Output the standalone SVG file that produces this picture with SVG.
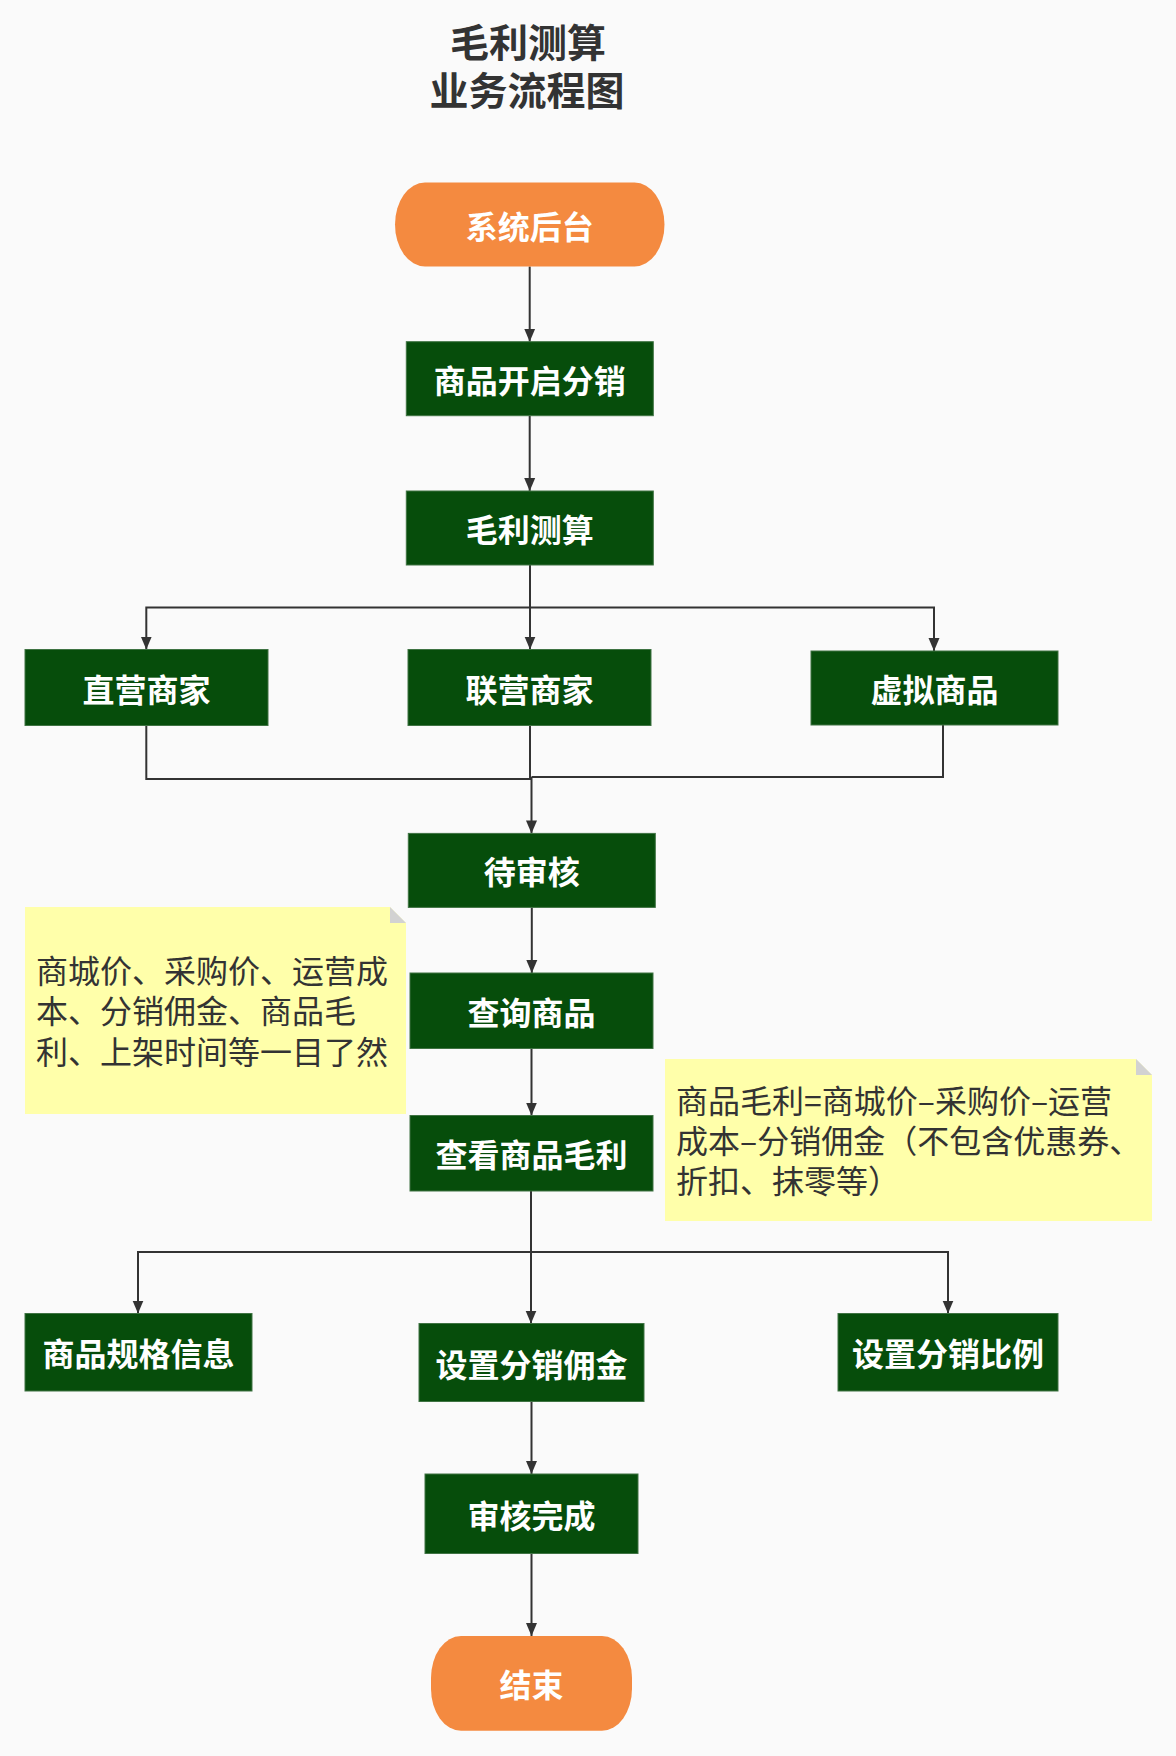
<svg xmlns="http://www.w3.org/2000/svg" width="1176" height="1756" viewBox="0 0 1176 1756">
<style>
  .bg{fill:#fafafa}
  .title{font-family:"Noto Sans CJK SC","Noto Sans",sans-serif;font-weight:bold;font-size:39px;fill:#333333;text-anchor:middle}
  .proc{fill:#064d0b;stroke:#3f7343;stroke-width:1}
  .term{fill:#f48a40}
  .lbl{font-family:"Noto Sans CJK SC","Noto Sans",sans-serif;font-weight:bold;font-size:32px;fill:#ffffff;text-anchor:middle;dominant-baseline:central}
  .note{fill:#ffffaa}
  .fold{fill:#d2d2d2}
  .ntxt{font-family:"Noto Sans CJK SC","Noto Sans",sans-serif;font-size:32px;fill:#333333}
  .edge{fill:none;stroke:#333333;stroke-width:2}
</style>
<defs>
  <marker id="arr" markerUnits="userSpaceOnUse" markerWidth="14" markerHeight="12" refX="13" refY="6" orient="auto">
    <path d="M0,0.5 L13,6 L0,11.5 z" fill="#333333"/>
  </marker>
</defs>
<rect class="bg" x="0" y="0" width="1176" height="1756"/>

<g id="title">
  <text class="title"><tspan x="528" y="57">毛利测算</tspan><tspan x="527" y="105">业务流程图</tspan></text>
</g>

<g id="connectors">
  <path class="edge" d="M529.7 266.5 V341.7" marker-end="url(#arr)"/>
  <path class="edge" d="M529.7 415.7 V491" marker-end="url(#arr)"/>
  <path class="edge" d="M530 565 V607.5"/>
  <path class="edge" d="M530 607.5 H146.3 V649.5" marker-end="url(#arr)"/>
  <path class="edge" d="M530 607.5 V649.5" marker-end="url(#arr)"/>
  <path class="edge" d="M530 607.5 H934 V651" marker-end="url(#arr)"/>
  <path class="edge" d="M146.3 725.5 V779 H531.5"/>
  <path class="edge" d="M943 725 V777 H531.5"/>
  <path class="edge" d="M530 725.5 V779"/>
  <path class="edge" d="M531.5 777 V833.4" marker-end="url(#arr)"/>
  <path class="edge" d="M531.8 907.4 V973" marker-end="url(#arr)"/>
  <path class="edge" d="M531.5 1048.5 V1115.5" marker-end="url(#arr)"/>
  <path class="edge" d="M531 1191 V1252"/>
  <path class="edge" d="M531 1252 H138 V1313.5" marker-end="url(#arr)"/>
  <path class="edge" d="M531 1252 V1323.5" marker-end="url(#arr)"/>
  <path class="edge" d="M531 1252 H948 V1313.5" marker-end="url(#arr)"/>
  <path class="edge" d="M531.5 1401.5 V1474" marker-end="url(#arr)"/>
  <path class="edge" d="M531.5 1553.5 V1636" marker-end="url(#arr)"/>
</g>

<g id="n-start">
  <rect class="term" x="395" y="182.5" width="269.5" height="84" rx="30" ry="42"/>
  <text class="lbl" x="529.7" y="224.5">系统后台</text>
</g>
<g id="n-open">
  <rect class="proc" x="406.3" y="341.7" width="247" height="74"/>
  <text class="lbl" x="529.8" y="378.7">商品开启分销</text>
</g>
<g id="n-calc">
  <rect class="proc" x="406.3" y="491" width="247" height="74"/>
  <text class="lbl" x="529.8" y="528">毛利测算</text>
</g>
<g id="n-direct">
  <rect class="proc" x="25" y="649.5" width="243" height="76"/>
  <text class="lbl" x="146.5" y="687.5">直营商家</text>
</g>
<g id="n-joint">
  <rect class="proc" x="408" y="649.5" width="243" height="76"/>
  <text class="lbl" x="529.5" y="687.5">联营商家</text>
</g>
<g id="n-virtual">
  <rect class="proc" x="811" y="651" width="247" height="74"/>
  <text class="lbl" x="934.5" y="688">虚拟商品</text>
</g>
<g id="n-pending">
  <rect class="proc" x="408.3" y="833.4" width="247" height="74"/>
  <text class="lbl" x="531.8" y="870.4">待审核</text>
</g>
<g id="n-query">
  <rect class="proc" x="410" y="973" width="243" height="75.5"/>
  <text class="lbl" x="531.5" y="1010.7">查询商品</text>
</g>
<g id="n-view">
  <rect class="proc" x="410" y="1115.5" width="243" height="75.5"/>
  <text class="lbl" x="531.5" y="1153.2">查看商品毛利</text>
</g>
<g id="n-spec">
  <rect class="proc" x="25" y="1313.5" width="227" height="77.5"/>
  <text class="lbl" x="138.5" y="1352">商品规格信息</text>
</g>
<g id="n-commission">
  <rect class="proc" x="419" y="1323.5" width="225" height="78"/>
  <text class="lbl" x="531.5" y="1362.5">设置分销佣金</text>
</g>
<g id="n-ratio">
  <rect class="proc" x="838" y="1313.5" width="220" height="77.5"/>
  <text class="lbl" x="948" y="1352">设置分销比例</text>
</g>
<g id="n-done">
  <rect class="proc" x="425" y="1474" width="213" height="79.5"/>
  <text class="lbl" x="531.5" y="1513.7">审核完成</text>
</g>
<g id="n-end">
  <rect class="term" x="431" y="1636" width="201" height="94.7" rx="30" ry="42"/>
  <text class="lbl" x="531.5" y="1683.3">结束</text>
</g>

<g id="note1">
  <polygon class="note" points="25,907 390,907 406,923 406,1114 25,1114"/>
  <polygon class="fold" points="390,907 406,923 390,923"/>
  <text class="ntxt"><tspan x="36" y="983">商城价、采购价、运营成</tspan><tspan x="36" y="1023.3">本、分销佣金、商品毛</tspan><tspan x="36" y="1063.6">利、上架时间等一目了然</tspan></text>
</g>
<g id="note2">
  <polygon class="note" points="665,1059 1136,1059 1152,1075 1152,1221 665,1221"/>
  <polygon class="fold" points="1136,1059 1152,1075 1136,1075"/>
  <text class="ntxt"><tspan x="676" y="1113">商品毛利=商城价–采购价–运营</tspan><tspan x="676" y="1153">成本–分销佣金（不包含优惠券、</tspan><tspan x="676" y="1193">折扣、抹零等）</tspan></text>
</g>
</svg>
